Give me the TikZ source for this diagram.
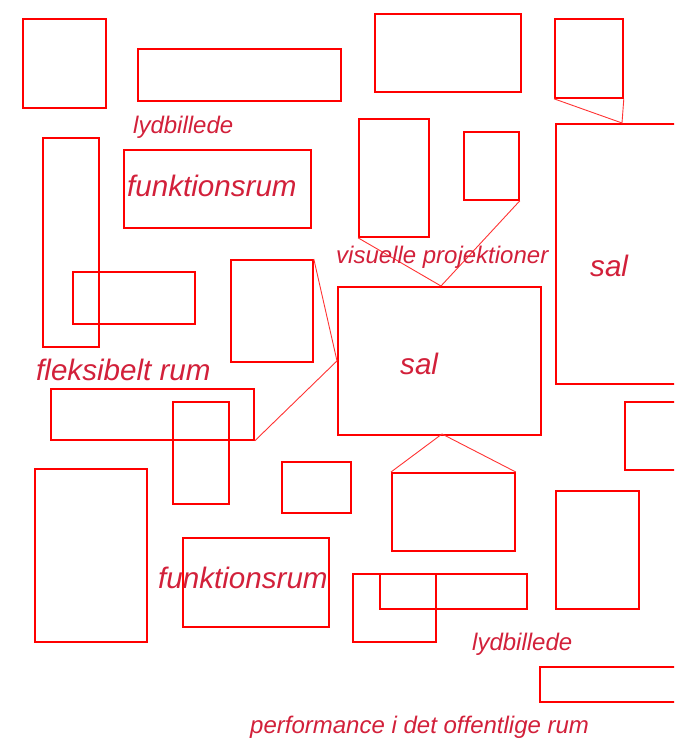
\documentclass[tikz,border=0pt]{standalone}
\usepackage{fontspec}
\setmainfont{Liberation Sans}
\definecolor{boxred}{RGB}{255,0,0}
\definecolor{txtred}{RGB}{210,32,58}
\begin{document}
\begin{tikzpicture}[x=1pt,y=-1pt,
  box/.style={draw=boxred, line width=1.8pt, inner sep=0pt, anchor=north west},
  conn/.style={draw=boxred!80, line width=0.9pt},
  lbl/.style={text=txtred, font=\itshape\fontsize{24}{24}\selectfont, anchor=base west, inner sep=0pt},
  big/.style={lbl, font=\itshape\fontsize{29.6}{29.6}\selectfont}]
\useasboundingbox (0,0) rectangle (674,738);
\clip (0,0) rectangle (674,738);
\newcommand{\bx}[5]{\node[box, minimum width=#4-#2, minimum height=#5-#3] (#1) at (#2,#3) {};}
\bx{b1}{22}{18}{105}{107}
\bx{b2}{137}{48}{340}{100}
\bx{b3}{374}{13}{520}{91}
\bx{b4}{554}{18}{622}{97}
\bx{b5}{555}{123}{690}{383}
\bx{b6}{42}{137}{98}{346}
\bx{b7}{123}{149}{310}{227}
\bx{b8}{358}{118}{428}{236}
\bx{b9}{463}{131}{518}{199}
\bx{b10}{72}{271}{194}{323}
\bx{b11}{230}{259}{312}{361}
\bx{b12}{337}{286}{540}{434}
\bx{b13}{50}{388}{253}{439}
\bx{b14}{172}{401}{228}{503}
\bx{b15}{624}{401}{690}{469}
\bx{b16}{34}{468}{146}{641}
\bx{b17}{281}{461}{350}{512}
\bx{b18}{391}{472}{514}{550}
\bx{b19}{555}{490}{638}{608}
\bx{b20}{182}{537}{328}{626}
\bx{b21}{352}{573}{435}{641}
\bx{b22}{379}{573}{526}{608}
\bx{b23}{539}{666}{690}{701}
\coordinate (p5) at (622,123);
\coordinate (p12n) at (441,286);
\coordinate (p12s) at (442,434);
\draw[conn] (b4.south west) -- (p5) -- (b4.south east);
\draw[conn] (b8.south west) -- (p12n) -- (b9.south east);
\draw[conn] (b11.north east) -- (b12.west) -- (b13.south east);
\draw[conn] (b18.north west) -- (p12s) -- (b18.north east);
\node[lbl] (t1) at (133,134) {lydbillede};
\node[big] (t2) at (127,196) {funktionsrum};
\node[lbl] (t3) at (336,263) {visuelle projektioner};
\node[big] (t4) at (590,276) {sal};
\node[big] (t5) at (400,374) {sal};
\node[big] (t6) at (36,380) {fleksibelt rum};
\node[big] (t7) at (158,588) {funktionsrum};
\node[lbl] (t8) at (472,650) {lydbillede};
\node[lbl] (t9) at (250,733) {performance i det offentlige rum};
\end{tikzpicture}
\end{document}
